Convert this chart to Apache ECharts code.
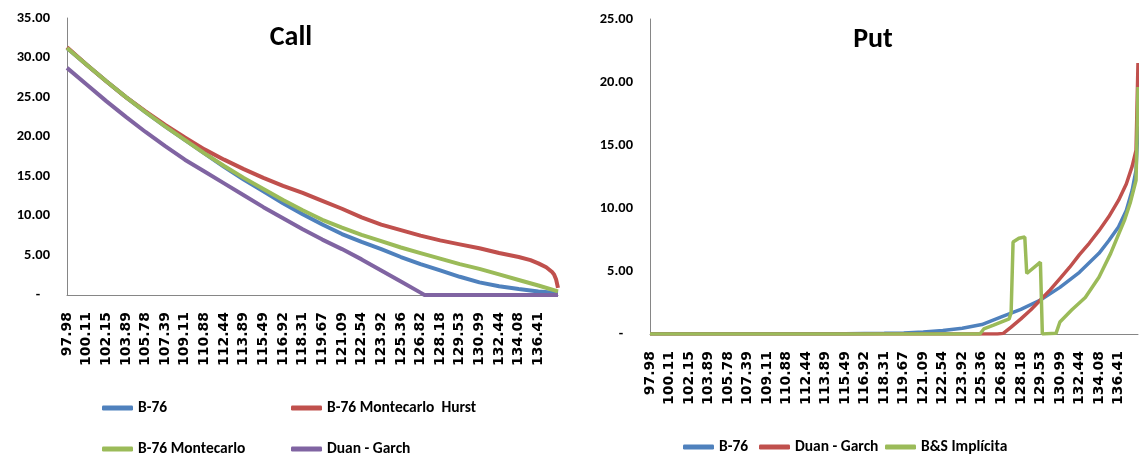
<!DOCTYPE html>
<html><head><meta charset="utf-8">
<script src="https://cdn.jsdelivr.net/npm/echarts@6/dist/echarts.min.js"></script>
<style>html,body{margin:0;padding:0;background:#fff}#c{width:1139px;height:462px}</style>
</head><body><div id="c"></div>
<script>
// Tick labels (strike prices) shown every 10 observations
const strikeLabels = ['97.98','100.11','102.15','103.89','105.78','107.39','109.11','110.88','112.44','113.89','115.49','116.92','118.31','119.67','121.09','122.54','123.92','125.36','126.82','128.18','129.53','130.99','132.44','134.08','136.41'];
const lastObs = 250;

// Call panel: [observation index, premium]
const callB76 = [[0,31.2],[10,29.1],[20,27.0],[30,25.0],[40,23.1],[50,21.3],[60,19.6],[70,17.9],[80,16.2],[90,14.6],[100,13.1],[110,11.6],[120,10.2],[130,8.9],[140,7.7],[150,6.7],[160,5.8],[170,4.8],[180,3.9],[190,3.1],[200,2.3],[210,1.6],[220,1.1],[230,0.75],[240,0.45],[250,0.25]];
const callHurst = [[0,31.3],[10,29.1],[20,27.0],[30,25.0],[40,23.2],[50,21.5],[60,19.9],[70,18.4],[80,17.1],[90,15.9],[100,14.8],[110,13.8],[120,12.9],[130,11.9],[140,10.9],[150,9.8],[160,8.9],[170,8.2],[180,7.5],[190,6.9],[200,6.4],[210,5.9],[220,5.3],[230,4.8],[236,4.4],[240,4.0],[244,3.5],[247,2.9],[248,2.6],[249,2.0],[250,0.9]];
const callMC = [[0,31.2],[10,29.1],[20,27.0],[30,25.0],[40,23.1],[50,21.3],[60,19.6],[70,17.9],[80,16.3],[90,14.8],[100,13.4],[110,12.0],[120,10.7],[130,9.5],[140,8.5],[150,7.6],[160,6.8],[170,6.0],[180,5.3],[190,4.6],[200,3.9],[210,3.3],[220,2.6],[230,1.9],[240,1.2],[250,0.45]];
const callDuan = [[0,28.7],[10,26.6],[20,24.5],[30,22.5],[40,20.6],[50,18.8],[60,17.1],[70,15.6],[80,14.1],[90,12.6],[100,11.1],[110,9.7],[120,8.3],[130,7.0],[140,5.8],[150,4.5],[160,3.1],[170,1.7],[180,0.3],[182,0],[250,0]];

// Put panel
const putB76 = [[0,0.02],[100,0.02],[120,0.05],[130,0.08],[140,0.15],[150,0.28],[160,0.45],[170,0.75],[180,1.35],[190,1.95],[200,2.7],[210,3.7],[220,4.9],[230,6.4],[235,7.4],[240,8.5],[244,9.8],[247,11.4],[249,13.0],[250,16.5]];
const putDuan = [[0,0],[178,0],[181,0.05],[185,0.55],[190,1.2],[195,1.9],[200,2.7],[205,3.5],[210,4.4],[215,5.3],[220,6.3],[225,7.2],[230,8.2],[235,9.3],[240,10.6],[244,11.9],[247,13.3],[249,14.6],[250,21.5]];
const putBS = [[0,0],[169,0],[171,0.4],[176,0.7],[184,1.2],[185,1.7],[186,7.3],[189,7.6],[192,7.7],[193,4.8],[200,5.7],[201,0],[208,0.05],[210,0.95],[216,1.9],[223,2.9],[230,4.5],[236,6.4],[240,7.9],[243,9.0],[246,10.4],[249,12.2],[250,19.6]];

const C_BLUE='#4F81BD', C_RED='#C0504D', C_GREEN='#9BBB59', C_PURPLE='#8064A2';
const UI_FONT = "Carlito, Lato, sans-serif";
const TICK_FONT = "'DejaVu Sans', Verdana, sans-serif";

function xAxis(gi){
  return {type:'value', gridIndex:gi, min:0, max:lastObs, interval:10,
    axisLine:{show:true, lineStyle:{color:'#868686', width:1}},
    axisTick:{show:false}, splitLine:{show:false},
    axisLabel:{rotate:90, margin:17, color:'#000', fontFamily:TICK_FONT, fontWeight:'bold', fontSize:14,
      showMaxLabel:false,
      formatter:v => (v % 10 === 0 && strikeLabels[v/10]) ? strikeLabels[v/10] : ''}};
}
function yAxis(gi,max){
  return {type:'value', gridIndex:gi, min:0, max:max, interval:5,
    axisLine:{show:true, lineStyle:{color:'#868686', width:1}},
    axisTick:{show:false}, splitLine:{show:false},
    axisLabel:{margin:17, color:'#000', fontFamily:UI_FONT, fontWeight:'bold', fontSize:14.5,
      formatter:v => v === 0 ? '-   ' : v.toFixed(2)}};
}
function line(name, data, color, gi, w){
  return {type:'line', name, data, xAxisIndex:gi, yAxisIndex:gi, showSymbol:false, symbol:'none',
    lineStyle:{color, width:w}, itemStyle:{color}, animation:false};
}
function legend(name, left, top){
  return {data:[name], left, top, padding:0, icon:'roundRect', itemWidth:31, itemHeight:5,
    textStyle:{fontFamily:UI_FONT, fontWeight:'bold', fontSize:15.5, color:'#000', lineHeight:20}};
}

const chart = echarts.init(document.getElementById('c'), null, {renderer:'canvas'});
chart.setOption({
  animation:false,
  backgroundColor:'#fff',
  title:[
    {text:'Call', left:286, top:19, textAlign:'center', textStyle:{fontFamily:UI_FONT, fontWeight:'bold', fontSize:28, color:'#000'}},
    {text:'Put', left:868, top:21, textAlign:'center', textStyle:{fontFamily:UI_FONT, fontWeight:'bold', fontSize:28, color:'#000'}}
  ],
  grid:[
    {left:67, top:18, width:491, height:277},
    {left:650, top:19, width:488, height:315}
  ],
  xAxis:[xAxis(0), xAxis(1)],
  yAxis:[yAxis(0,35), yAxis(1,25)],
  legend:[
    legend('B-76', 102, 398),
    legend('B-76 Montecarlo  Hurst', 291, 398),
    legend('B-76 Montecarlo', 102, 439),
    legend('Duan - Garch', 291, 439),
    legend('B-76 ', 683, 437),
    legend('Duan - Garch ', 759, 437),
    legend('B&S Implícita', 885, 437)
  ],
  series:[
    line('B-76', callB76, C_BLUE, 0, 4),
    line('B-76 Montecarlo  Hurst', callHurst, C_RED, 0, 4),
    line('B-76 Montecarlo', callMC, C_GREEN, 0, 4),
    line('Duan - Garch', callDuan, C_PURPLE, 0, 4),
    line('B-76 ', putB76, C_BLUE, 1, 3.5),
    line('Duan - Garch ', putDuan, C_RED, 1, 3.5),
    line('B&S Implícita', putBS, C_GREEN, 1, 3.5)
  ]
});
</script></body></html>
